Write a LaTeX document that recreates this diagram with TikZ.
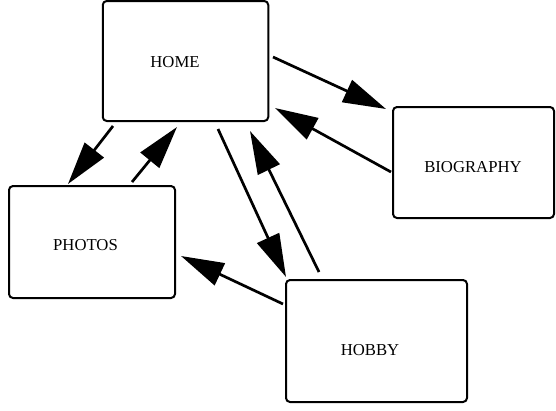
\documentclass[tikz,border=0pt]{standalone}
\usepackage{fontspec}
\setmainfont{Liberation Serif}
\usetikzlibrary{arrows.meta}
\begin{document}
\begin{tikzpicture}[x=1pt,y=-1pt,
  pagebox/.style={draw=black,line width=2pt,rounded corners=4pt,inner sep=0pt,fill=white},
  pagetext/.style={inner sep=0pt,font=\fontsize{16.7}{20}\selectfont},
  link/.style={line width=2.7pt,-{Triangle[length=43pt,width=24pt]}}]
\useasboundingbox (0,0) rectangle (556,410);
% boxes
\node[pagebox,minimum width=165.5pt,minimum height=120pt] (home) at (185.5,61) {};
\node[pagebox,minimum width=161pt,minimum height=111pt] (bio) at (473.5,162.5) {};
\node[pagebox,minimum width=166pt,minimum height=112pt] (photos) at (92,242) {};
\node[pagebox,minimum width=181pt,minimum height=122pt] (hobby) at (376.5,341) {};
% labels
\node[pagetext] (hometext) at (175,62) {HOME};
\node[pagetext] (biotext) at (473,167) {BIOGRAPHY};
\node[pagetext] (photostext) at (85.5,245) {PHOTOS};
\node[pagetext] (hobbytext) at (370,350) {HOBBY};
% connector ends
\coordinate (hb1) at (273,57);  \coordinate (hb2) at (386,109);
\coordinate (bh1) at (391,172); \coordinate (bh2) at (275,108);
\coordinate (hp1) at (113,126); \coordinate (hp2) at (68,184);
\coordinate (ph1) at (132,182); \coordinate (ph2) at (177,127);
\coordinate (hy1) at (218,129); \coordinate (hy2) at (286,277);
\coordinate (yh1) at (319,272); \coordinate (yh2) at (250,131);
\coordinate (yp1) at (283,304); \coordinate (yp2) at (181,256);
% connectors
\draw[link] (hb1) -- (hb2);
\draw[link] (bh1) -- (bh2);
\draw[link] (hp1) -- (hp2);
\draw[link] (ph1) -- (ph2);
\draw[link] (hy1) -- (hy2);
\draw[link] (yh1) -- (yh2);
\draw[link] (yp1) -- (yp2);
\end{tikzpicture}
\end{document}
